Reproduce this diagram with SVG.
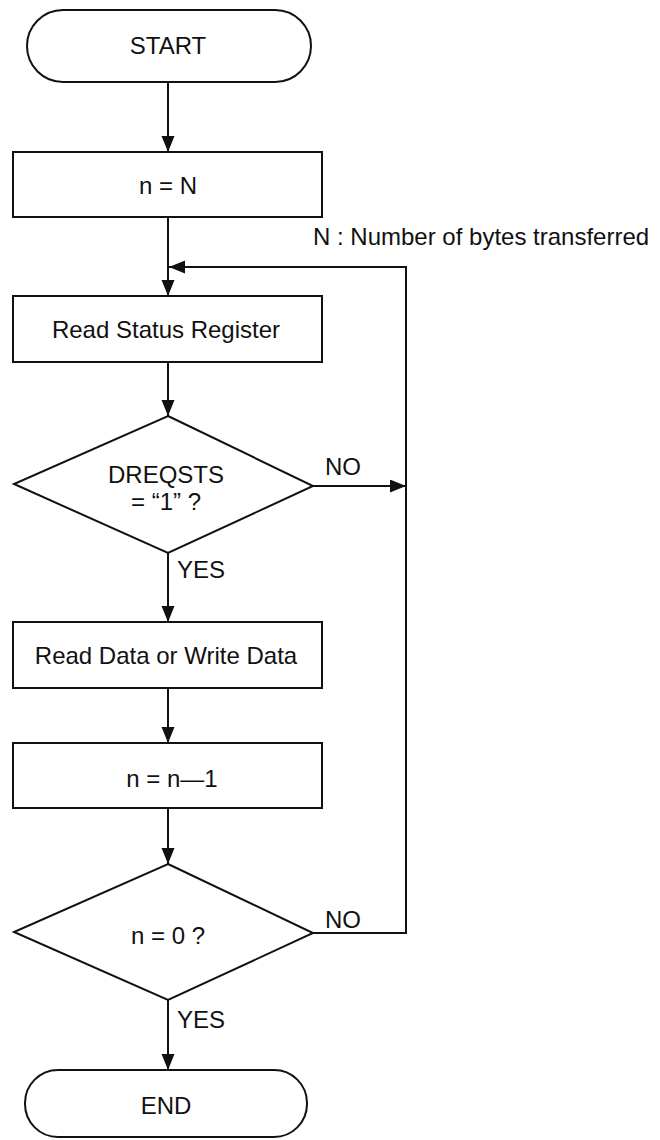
<svg xmlns="http://www.w3.org/2000/svg" width="660" height="1140" viewBox="0 0 660 1140">
<defs>
<marker id="ah" markerUnits="userSpaceOnUse" markerWidth="17" markerHeight="14" refX="16" refY="6.5" orient="auto">
<path d="M0,0 L16,6.5 L0,13 z" fill="#111"/>
</marker>
<style>
.s{fill:#fff;stroke:#111;stroke-width:2}
.t{font-family:"Liberation Sans",Arial,sans-serif;font-size:24px;fill:#111;text-anchor:middle}
.l{font-family:"Liberation Sans",Arial,sans-serif;font-size:24px;fill:#111}
.c{fill:none;stroke:#111;stroke-width:2}
</style>
</defs>
<rect width="660" height="1140" fill="#fff"/>
<g id="connectors">
<line class="c" x1="168" y1="82" x2="168" y2="152" marker-end="url(#ah)"/>
<line class="c" x1="168" y1="217" x2="168" y2="296" marker-end="url(#ah)"/>
<line class="c" x1="168" y1="362" x2="168" y2="416" marker-end="url(#ah)"/>
<line class="c" x1="313" y1="486" x2="406" y2="486" marker-end="url(#ah)"/>
<line class="c" x1="168" y1="553" x2="168" y2="622" marker-end="url(#ah)"/>
<line class="c" x1="168" y1="688" x2="168" y2="743" marker-end="url(#ah)"/>
<line class="c" x1="168" y1="808" x2="168" y2="864" marker-end="url(#ah)"/>
<polyline class="c" points="313,933 406,933 406,267 169,267" marker-end="url(#ah)"/>
<line class="c" x1="168" y1="1000" x2="168" y2="1070" marker-end="url(#ah)"/>
<text class="l" x="325" y="475">NO</text>
<text class="l" x="177" y="578">YES</text>
<text class="l" x="325" y="928">NO</text>
<text class="l" x="177" y="1028">YES</text>
</g>
<g id="note">
<text class="l" x="313" y="245">N : Number of bytes transferred</text>
</g>
<g id="start">
<rect class="s" x="27" y="10" width="284" height="72" rx="36"/>
<text class="t" x="168" y="54">START</text>
</g>
<g id="init">
<rect class="s" x="13" y="152" width="309" height="65"/>
<text class="t" x="168" y="194">n = N</text>
</g>
<g id="readStatus">
<rect class="s" x="13" y="296" width="309" height="66"/>
<text class="t" x="166" y="338">Read Status Register</text>
</g>
<g id="dreqCheck">
<polygon class="s" points="168,416 313,486 168,553 14,484"/>
<text class="t" x="166" y="483">DREQSTS</text>
<text class="t" x="166" y="510">= “1” ?</text>
</g>
<g id="readWrite">
<rect class="s" x="13" y="622" width="309" height="66"/>
<text class="t" x="166" y="664">Read Data or Write Data</text>
</g>
<g id="decrement">
<rect class="s" x="13" y="743" width="309" height="65"/>
<text class="t" x="172" y="787">n = n—1</text>
</g>
<g id="zeroCheck">
<polygon class="s" points="168,864 313,933 168,1000 14,932"/>
<text class="t" x="168" y="944">n = 0 ?</text>
</g>
<g id="end">
<rect class="s" x="25" y="1070" width="282" height="67" rx="33"/>
<text class="t" x="166" y="1114">END</text>
</g>
</svg>
